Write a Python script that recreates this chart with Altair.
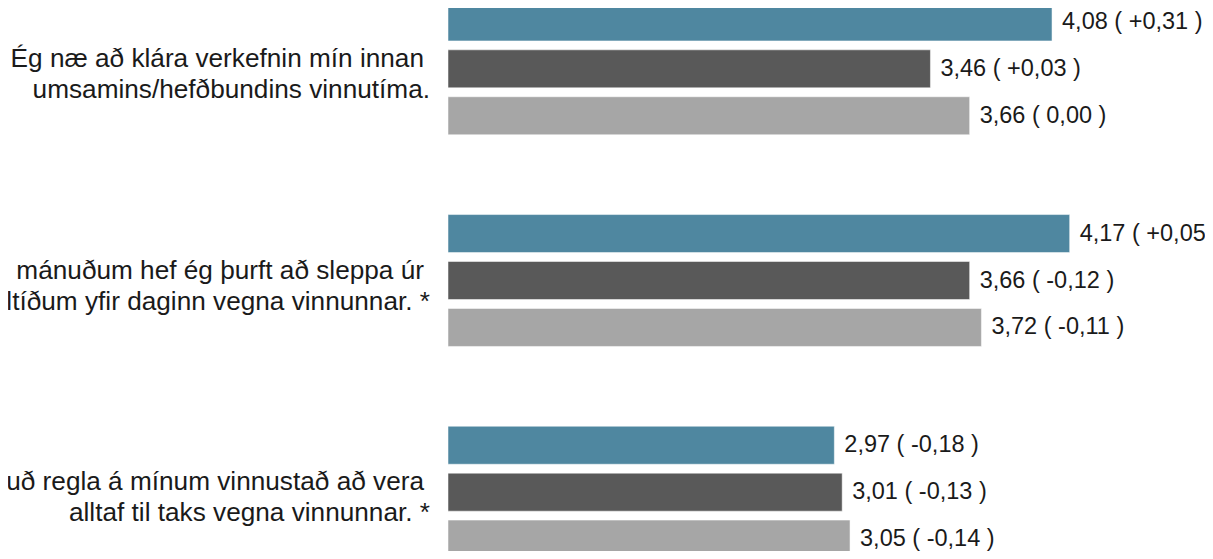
import altair as alt
import pandas as pd

# --- data ---
keys = ["q1", "q2", "q3"]
statement_line1 = [
    "Ég næ að klára verkefnin mín innan",
    "Á síðustu mánuðum hef ég þurft að sleppa úr",
    "Það er óskrifuð regla á mínum vinnustað að vera",
]
statement_line2 = [
    "umsamins/hefðbundins vinnutíma.",
    "máltíðum yfir daginn vegna vinnunnar. *",
    "alltaf til taks vegna vinnunnar. *",
]
series = ["Hópur 1", "Hópur 2", "Hópur 3"]
values = [
    [4.08, 3.46, 3.66],
    [4.17, 3.66, 3.72],
    [2.97, 3.01, 3.05],
]
changes = [
    [0.31, 0.03, 0.00],
    [0.05, -0.12, -0.11],
    [-0.18, -0.13, -0.14],
]
colors = ["#4f87a0", "#595959", "#a6a6a6"]


def fmt_num(v):
    return f"{v:.2f}".replace(".", ",")


def fmt_change(c):
    if c > 0:
        return "+" + fmt_num(c)
    if c < 0:
        return "-" + fmt_num(-c)
    return fmt_num(0)


rows = []
for k, vals, chs in zip(keys, values, changes):
    for s, v, c in zip(series, vals, chs):
        rows.append({"key": k, "series": s, "value": v,
                     "label": f"{fmt_num(v)} ( {fmt_change(c)} )"})
df = pd.DataFrame(rows)
lab_df = pd.DataFrame({"key": keys, "line1": statement_line1, "line2": statement_line2})

FONT = "Liberation Sans"

y_enc = alt.Y("key:N", sort=keys, axis=None,
              scale=alt.Scale(range=[-45, 590], paddingInner=0, paddingOuter=0))
yoff_enc = alt.YOffset("series:N", sort=series,
                       scale=alt.Scale(paddingInner=0.19, paddingOuter=0.85))
x_scale = alt.Scale(domain=[1, 4.86], nice=False, zero=False)

bars = alt.Chart(df).mark_bar(stroke="white", strokeWidth=1, strokeOpacity=0.5).encode(
    x=alt.X("value:Q", scale=x_scale, axis=None),
    x2=alt.datum(1),
    y=y_enc,
    yOffset=yoff_enc,
    color=alt.Color("series:N", scale=alt.Scale(domain=series, range=colors), legend=None),
)

value_text = alt.Chart(df).mark_text(
    align="left", baseline="middle", dx=10, fontSize=23.5, font=FONT, color="#1a1a1a"
).encode(
    x=alt.X("value:Q", scale=x_scale, axis=None),
    y=y_enc,
    yOffset=yoff_enc,
    text="label:N",
)

line1_text = alt.Chart(lab_df).mark_text(
    align="right", baseline="middle", dy=-10, fontSize=26.2, font=FONT, color="#1a1a1a"
).encode(
    x=alt.value(-24),
    y=y_enc,
    text="line1:N",
)

line2_text = alt.Chart(lab_df).mark_text(
    align="right", baseline="middle", dy=21, fontSize=26.2, font=FONT, color="#1a1a1a"
).encode(
    x=alt.value(-18),
    y=y_enc,
    text="line2:N",
)

chart = alt.layer(bars, value_text, line1_text, line2_text).properties(
    width=757,
    height=543,
    autosize=alt.AutoSizeParams(type="none"),
    padding={"left": 440, "top": 0, "right": 0, "bottom": 0},
).configure_view(stroke=None)

chart.save("out.html", embed_options={"renderer": "svg", "actions": False})
